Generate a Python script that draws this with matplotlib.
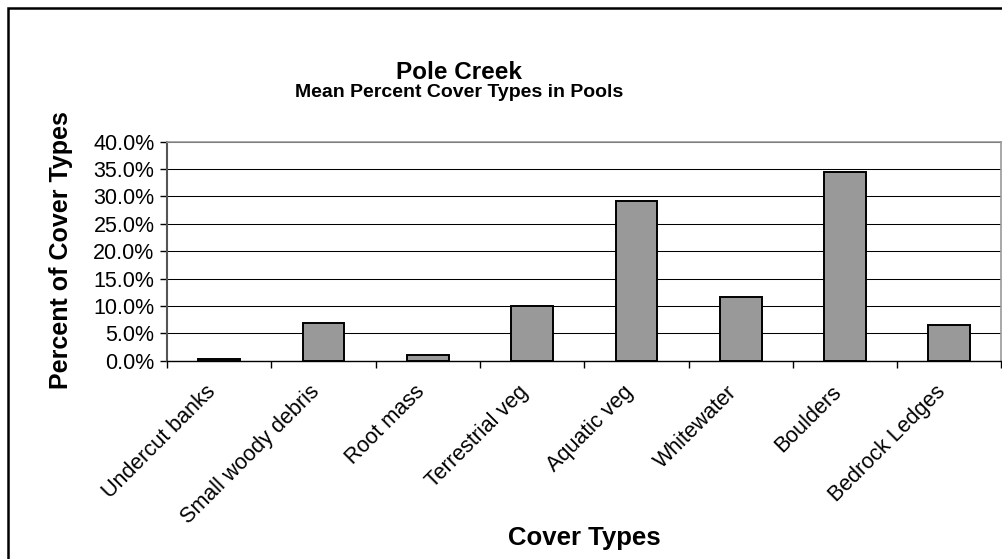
import matplotlib.pyplot as plt
from matplotlib.patches import Rectangle
from matplotlib.transforms import ScaledTranslation

# values
categories = ["Undercut banks", "Small woody debris", "Root mass", "Terrestrial veg",
              "Aquatic veg", "Whitewater", "Boulders", "Bedrock Ledges"]
cover_pct = [0.3, 6.9, 1.0, 10.0, 29.2, 11.6, 34.5, 6.5]
y_ticks = [0, 5, 10, 15, 20, 25, 30, 35, 40]
y_ticklabels = ["0.0%", "5.0%", "10.0%", "15.0%", "20.0%", "25.0%", "30.0%", "35.0%", "40.0%"]

plt.rcParams["font.family"] = ["Liberation Sans", "DejaVu Sans"]

W, H = 1002, 559
fig = plt.figure(figsize=(W / 100, H / 100), dpi=100)

# outer chart border (cut off on the right and bottom like the original)
fig.patches.append(Rectangle((7.5 / W, -0.1), 1.2, 1 - 7.5 / H + 0.1,
                             transform=fig.transFigure, fill=False,
                             edgecolor="black", linewidth=1.8))

left, right, top, bottom = 167, 1001.5, 141.7, 360.7
ax = fig.add_axes([left / W, 1 - bottom / H, (right - left) / W, (bottom - top) / H])

x = range(len(categories))
ax.bar(x, cover_pct, width=0.4, color="#999999", edgecolor="black", linewidth=1.4, zorder=3)

ax.set_xlim(-0.5, len(categories) - 0.5)
ax.set_ylim(0, 40)

# y axis
ax.set_yticks(y_ticks)
ax.set_yticklabels(y_ticklabels)
ax.tick_params(axis="y", direction="out", length=5, width=1, pad=4, labelsize=15.5)
ax.yaxis.grid(True, color="black", linewidth=0.75)
ax.set_axisbelow(True)

# x axis: marks between categories, labels at centres
ax.set_xticks([i - 0.5 for i in range(len(categories) + 1)])
ax.set_xticklabels([])
ax.tick_params(axis="x", which="major", direction="out", length=5, width=1)
ax.set_xticks(list(x), minor=True)
ax.set_xticklabels(categories, minor=True)
ax.tick_params(axis="x", which="minor", length=0, pad=15, labelsize=15.5)
off = ScaledTranslation(-14 / 100, 0, fig.dpi_scale_trans)
for lab in ax.get_xticklabels(minor=True):
    lab.set_rotation(45)
    lab.set_ha("right")
    lab.set_va("top")
    lab.set_rotation_mode("anchor")
    lab.set_transform(lab.get_transform() + off)

for side in ["top", "right"]:
    ax.spines[side].set_color("#999999")
    ax.spines[side].set_linewidth(1.2)
ax.spines["left"].set_color("#555555")
ax.spines["left"].set_linewidth(1.5)
ax.spines["bottom"].set_color("black")
ax.spines["bottom"].set_linewidth(1)

# titles and axis labels
fig.text(459 / W, 1 - 79 / H, "Pole Creek", ha="center", va="baseline",
         fontsize=17.5, fontweight="bold")
fig.text(459 / W, 1 - 97 / H, "Mean Percent Cover Types in Pools", ha="center", va="baseline",
         fontsize=14, fontweight="bold")
fig.text(61 / W, 1 - 250 / H, "Percent of Cover Types", ha="center", va="center",
         rotation=90, fontsize=18, fontweight="bold")
fig.text((left + right) / 2 / W, 1 - 545 / H, "Cover Types", ha="center", va="baseline",
         fontsize=18.5, fontweight="bold")

fig.savefig("out.png", dpi=100)
